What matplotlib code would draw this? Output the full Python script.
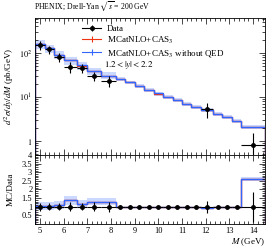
import matplotlib
matplotlib.use("Agg")
import matplotlib.pyplot as plt
import numpy as np
from matplotlib.lines import Line2D
from matplotlib.ticker import FixedLocator, MultipleLocator, NullFormatter, LogLocator

plt.rcParams['font.family'] = ['Liberation Serif', 'DejaVu Serif']
plt.rcParams['mathtext.fontset'] = 'stix'
plt.rcParams['font.size'] = 6.5

# bin edges (GeV)
edges = [4.8, 5.2, 5.6, 6.0, 6.55, 7.0, 7.6, 8.2, 8.6, 9.0, 9.4, 9.8, 10.2,
         10.6, 11.0, 11.4, 11.8, 12.3, 12.7, 13.1, 13.5, 14.5]

# measured points (only bins with data)
data_idx = [0, 1, 2, 3, 4, 5, 6, 16, 20]
data_val = [151, 121, 82, 49, 45, 30, 23.5, 5.3, 0.81]
data_rel = [0.24, 0.22, 0.22, 0.27, 0.22, 0.25, 0.28, 0.36, 0.87]

# MC predictions
mc_qed = [157, 126.5, 89.5, 67.7, 51.8, 38.8, 30.3, 25.9, 21.4, 17.4, 14.4,
          11.95, 9.95, 8.36, 6.97, 5.87, 4.98, 4.08, 3.48, 2.89, 2.09]
mc_noqed = [158, 127, 90, 68, 52, 39, 30.5, 26, 21.5, 17.5, 14.5, 12, 10,
            8.4, 7.0, 5.9, 5.0, 4.1, 3.5, 2.9, 2.1]
mc_band = [0.22, 0.22, 0.2, 0.2, 0.2, 0.18, 0.18, 0.1, 0.1, 0.1, 0.1,
           0.1, 0.1, 0.1, 0.1, 0.1, 0.1, 0.1, 0.1, 0.1, 0.1]

# MC / data
ratio_qed = [1.04, 1.04, 1.09, 1.37, 1.14, 1.29, 1.29, 1, 1, 1, 1, 1, 1,
             1, 1, 1, 0.95, 1, 1, 1, 2.58]
ratio_noqed = [1.05, 1.05, 1.1, 1.38, 1.15, 1.3, 1.3, 1, 1, 1, 1, 1, 1,
               1, 1, 1, 0.95, 1, 1, 1, 2.6]
ratio_band = [0.25, 0.25, 0.22, 0.27, 0.22, 0.2, 0.2, 0, 0, 0, 0, 0, 0,
              0, 0, 0, 0.03, 0, 0, 0, 0.1]

edges = np.array(edges)
centers = 0.5 * (edges[:-1] + edges[1:])
halfw = 0.5 * (edges[1:] - edges[:-1])
mc_noqed = np.array(mc_noqed)
mc_band = np.array(mc_band)
ratio_noqed = np.array(ratio_noqed)
ratio_band = np.array(ratio_band)

red = '#EE3311'
blue = '#3366FF'

fig = plt.figure(figsize=(2.74, 2.48), dpi=100)
ax = fig.add_axes([0.128, 0.375, 0.839, 0.552])
rax = fig.add_axes([0.128, 0.097, 0.839, 0.278])

# main panel
ax.stairs(mc_noqed * (1 + mc_band), edges, baseline=mc_noqed * (1 - mc_band),
          fill=True, color=blue, alpha=0.25, lw=0)
ax.stairs(mc_qed, edges, color=red, lw=1.0)
ax.stairs(mc_noqed, edges, color=blue, lw=1.0)
dv = np.array(data_val)
dr = np.array(data_rel)
ax.errorbar(centers[data_idx], dv, xerr=halfw[data_idx], yerr=dv * dr,
            fmt='o', ms=2.5, color='black', lw=0.8, capsize=0, zorder=5)
ax.set_yscale('log')
ax.set_xlim(4.8, 14.5)
ax.set_ylim(0.48, 620)
ax.yaxis.set_major_locator(FixedLocator([1, 10, 100]))
ax.set_yticklabels(['$1$', '$10^1$', '$10^2$'])
ax.yaxis.set_minor_locator(LogLocator(subs=np.arange(2, 10)))
ax.yaxis.set_minor_formatter(NullFormatter())
ax.xaxis.set_major_locator(MultipleLocator(1))
ax.xaxis.set_minor_locator(MultipleLocator(0.2))
ax.xaxis.set_major_formatter(NullFormatter())
ax.set_ylabel(r'$d^2\sigma/dy/dM$ (pb/GeV)', fontsize=6.5, labelpad=2)
ax.text(-0.005, 1.035, r'PHENIX; Drell-Yan $\sqrt{s}$ = 200 GeV',
        transform=ax.transAxes, fontsize=5.6, ha='left', va='bottom')

# legend handles: horizontal bar with a short vertical tick
h_data = (Line2D([], [], color='black', lw=0.8, marker='|', ms=5, mew=0.8),
          Line2D([], [], color='black', lw=0, marker='o', ms=2.5))
h_red = Line2D([], [], color=red, lw=0.8, marker='|', ms=5, mew=0.8)
h_blue = Line2D([], [], color=blue, lw=0.8, marker='|', ms=5, mew=0.8)
ax.legend([h_data, h_red, h_blue],
          ['Data', r'MCatNLO+CAS$_3$', r'MCatNLO+CAS$_3$ without QED'],
          loc='upper left', bbox_to_anchor=(0.175, 1.0), frameon=False,
          fontsize=6.5, handlelength=2.2, handletextpad=0.6,
          labelspacing=0.2, borderaxespad=0.3)
ax.text(0.3, 0.66, r'$1.2 < |y| < 2.2$', transform=ax.transAxes,
        fontsize=6.5, ha='left', va='center')

# ratio panel
rax.stairs(ratio_noqed + ratio_band, edges, baseline=ratio_noqed - ratio_band,
           fill=True, color=blue, alpha=0.25, lw=0)
rax.stairs(ratio_qed, edges, color=red, lw=1.0)
rax.stairs(ratio_noqed, edges, color=blue, lw=1.0)
ryerr = np.zeros(len(centers))
ryerr[data_idx] = dr
rax.errorbar(centers, np.ones(len(centers)), xerr=halfw, yerr=ryerr,
             fmt='o', ms=2.5, color='black', lw=0.8, capsize=0, zorder=5)
rax.set_xlim(4.8, 14.5)
rax.set_ylim(0.0, 4.0)
rax.yaxis.set_major_locator(FixedLocator([0.5, 1, 1.5, 2, 2.5, 3, 3.5, 4]))
rax.set_yticklabels(['0.5', '1', '1.5', '2', '2.5', '3', '3.5', '4'])
rax.yaxis.set_minor_locator(MultipleLocator(0.1))
rax.xaxis.set_major_locator(MultipleLocator(1))
rax.xaxis.set_minor_locator(MultipleLocator(0.2))
rax.set_ylabel('MC/Data', fontsize=6.5, labelpad=5)
rax.set_xlabel(r'$M$ (GeV)', fontsize=6.5, loc='right', labelpad=1)

for a in (ax, rax):
    a.tick_params(which='both', direction='in', top=True, right=True,
                  labelsize=6, width=0.5, pad=2)
    a.tick_params(which='major', length=4)
    a.tick_params(which='minor', length=2)
    for s in a.spines.values():
        s.set_linewidth(0.6)

fig.savefig('out.png', dpi=100)
